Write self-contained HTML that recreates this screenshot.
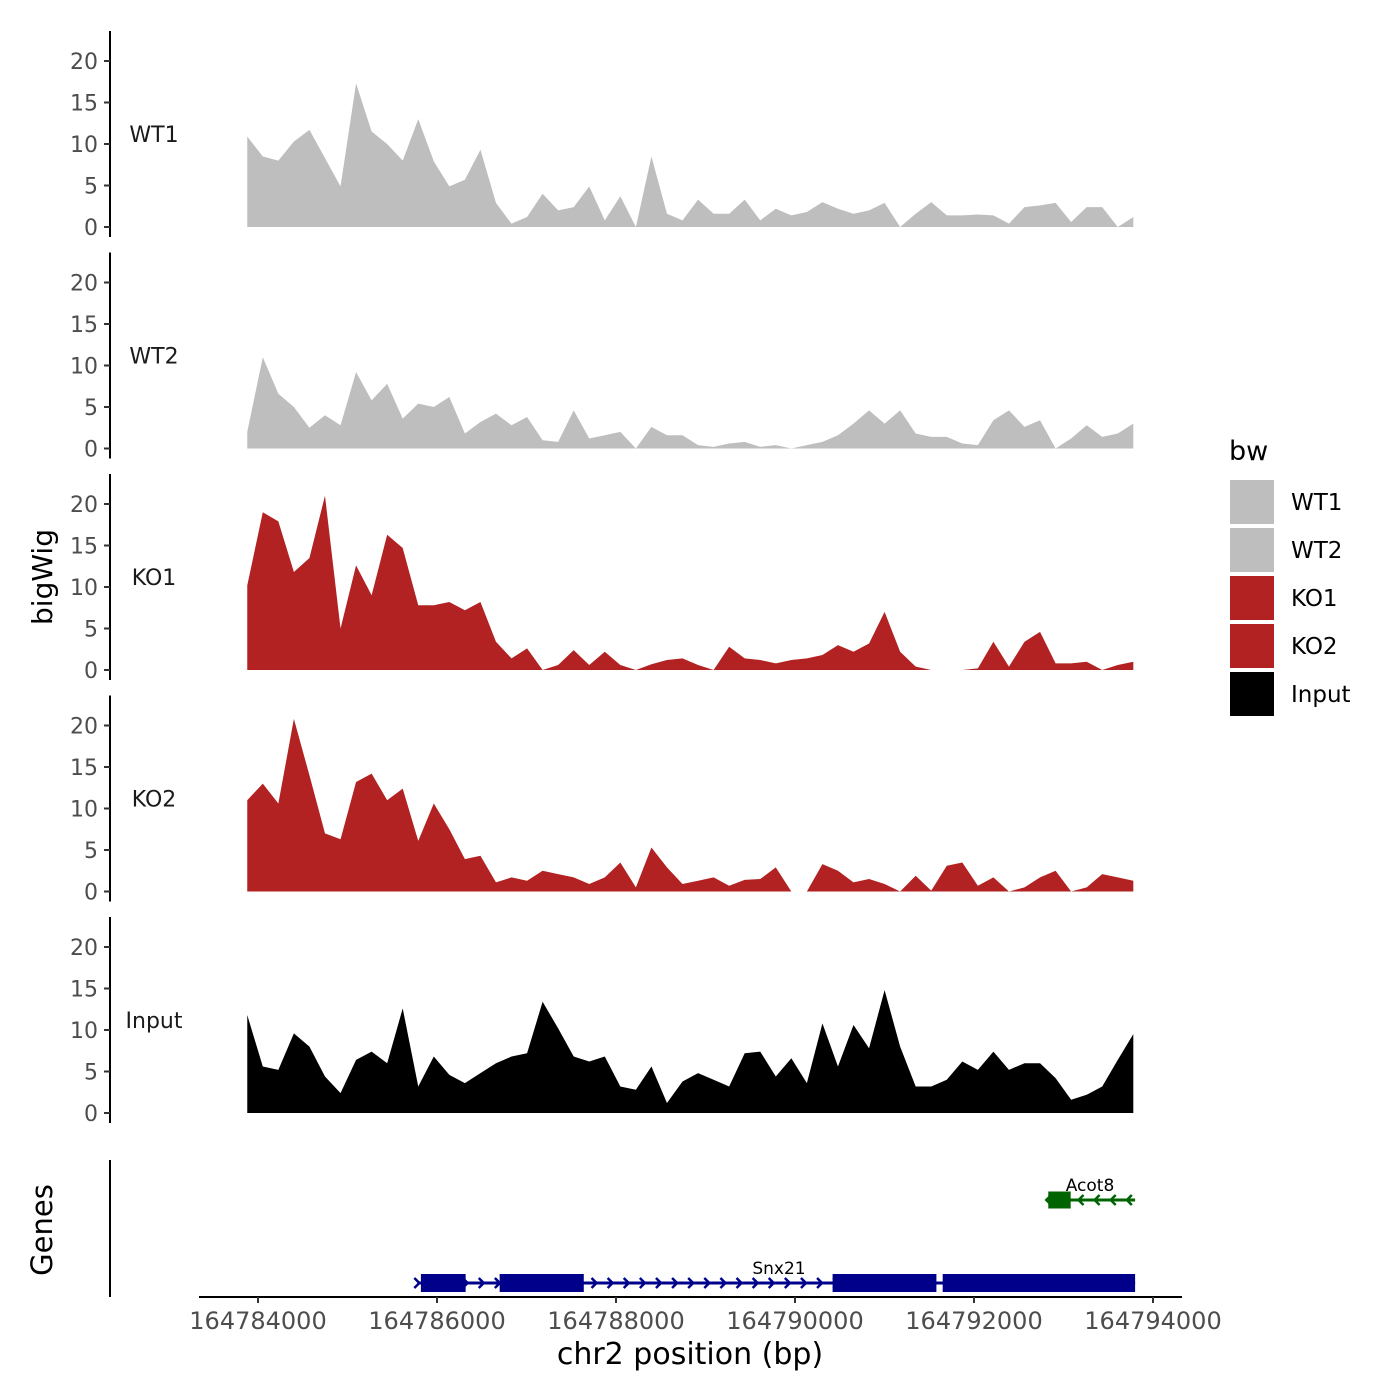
<!DOCTYPE html>
<html><head><meta charset="utf-8"><style>
html,body{margin:0;padding:0;background:#fff;}
svg{display:block;font-family:"DejaVu Sans","Liberation Sans",sans-serif;}
</style></head><body>
<svg id="chart" width="1400" height="1400" viewBox="0 0 1400 1400" xmlns="http://www.w3.org/2000/svg"></svg>
<script>
const xStartBp = 164783880;
const xEndBp = 164793780;
const trackNames = ["WT1","WT2","KO1","KO2","Input"];
const trackColors = ["#bebebe","#bebebe","#b22222","#b22222","#000000"];
const wt1 = [10.9,8.5,8,10.3,11.7,8.3,4.9,17.3,11.5,10,8,13,7.9,4.9,5.7,9.3,2.9,0.4,1.2,4,2,2.4,4.9,0.8,3.7,0,8.5,1.6,0.8,3.3,1.6,1.6,3.3,0.8,2.2,1.4,1.8,3,2.2,1.6,2,2.9,0,1.6,3,1.4,1.4,1.5,1.4,0.4,2.4,2.6,2.9,0.6,2.4,2.4,0,1.2];
const wt2 = [2,11,6.6,5,2.5,4,2.8,9.2,5.8,7.8,3.6,5.4,5,6.2,1.8,3.2,4.2,2.8,3.8,1,0.8,4.6,1.2,1.6,2,0,2.6,1.6,1.6,0.4,0.2,0.6,0.8,0.2,0.4,0,0.4,0.8,1.6,3,4.6,3,4.6,1.8,1.4,1.4,0.6,0.4,3.4,4.6,2.6,3.4,0,1.2,2.8,1.4,1.8,3];
const ko1 = [10.2,19,17.9,11.8,13.5,21,5,12.6,9,16.3,14.7,7.8,7.8,8.2,7.2,8.2,3.4,1.4,2.6,0,0.6,2.4,0.6,2.2,0.6,0,0.7,1.2,1.4,0.6,0,2.8,1.4,1.2,0.8,1.2,1.4,1.8,3,2.2,3.2,7,2.2,0.4,0,0,0,0.2,3.4,0.4,3.4,4.6,0.8,0.8,1,0,0.6,1];
const ko2 = [11,13,10.6,20.8,14,7,6.3,13.2,14.2,11,12.4,6.1,10.6,7.5,3.9,4.3,1.1,1.7,1.3,2.5,2.1,1.7,0.9,1.7,3.5,0.5,5.3,2.9,0.9,1.3,1.7,0.7,1.4,1.5,2.9,0,0,3.3,2.5,1.1,1.5,0.9,0,1.9,0.1,3.1,3.5,0.7,1.7,0,0.5,1.7,2.5,0,0.5,2.1,1.7,1.3];
const input = [11.8,5.6,5.2,9.6,8,4.4,2.4,6.4,7.4,6,12.6,3.2,6.8,4.6,3.6,4.8,6,6.8,7.2,13.4,10.2,6.8,6.2,6.8,3.2,2.8,5.6,1.2,3.8,4.8,4,3.2,7.2,7.4,4.4,6.6,3.6,10.8,5.6,10.6,7.8,14.8,8,3.2,3.2,4,6.2,5.2,7.4,5.2,6,6,4.2,1.6,2.2,3.2,6.4,9.5];
const seriesList = [wt1,wt2,ko1,ko2,input];
const yTicks = [0,5,10,15,20];
const xTicks = [164784000,164786000,164788000,164790000,164792000,164794000];
const snxExons = [[164785820,164786320],[164786700,164787640],[164790420,164791580],[164791650,164793800]];
const snxRange = [164785780,164793800];
const acotExons = [[164792830,164793080]];
const acotRange = [164792830,164793800];

const svg = document.getElementById('chart');
const NS = 'http://www.w3.org/2000/svg';
function mk(tag, attrs, parent){const e=document.createElementNS(NS,tag);for(const k in attrs)e.setAttribute(k,attrs[k]);(parent||svg).appendChild(e);return e;}
const xScale = bp => 258 + (bp - 164784000) * (1153 - 258) / 10000;
const panelOff = 221.5;
const yScale = (v,k) => 227 + k*panelOff - v*8.3;

for(let k=0;k<5;k++){
  const g = mk('g',{});
  
  
  const vals = seriesList[k];
  const n = vals.length;
  let d = 'M' + xScale(xStartBp) + ',' + yScale(0,k);
  for(let i=0;i<n;i++){
    const bp = xStartBp + i*(xEndBp - xStartBp)/(n-1);
    d += ' L' + xScale(bp).toFixed(2) + ',' + yScale(vals[i],k).toFixed(2);
  }
  d += ' L' + xScale(xEndBp) + ',' + yScale(0,k) + ' Z';
  const area = mk('path',{d:d, fill:trackColors[k]}, g);
  
  
  const ax = mk('line',{x1:110,x2:110,y1:31+k*panelOff,y2:237+k*panelOff,stroke:'#000','stroke-width':2}, g);
  
  
  yTicks.forEach(t=>{
    const y = yScale(t,k);
    mk('line',{x1:104,x2:110,y1:y,y2:y,stroke:'#333','stroke-width':2}, g);
    const tl = mk('text',{x:98,y:y+8,'text-anchor':'end','font-size':22,fill:'#4d4d4d'}, g);
    tl.textContent = t;
    
    
  });
  const lab = mk('text',{x:154,y:142+k*panelOff,'text-anchor':'middle','font-size':22,fill:'#1a1a1a'}, g);
  lab.textContent = trackNames[k];
  
  
}

const gax = mk('line',{x1:110,x2:110,y1:1160,y2:1297,stroke:'#000','stroke-width':2});


function drawGene(range, exons, y, h, color, dir, name, labelX, labelY){
  const g = mk('g',{});
  
  
  mk('line',{x1:xScale(range[0]),x2:xScale(range[1]),y1:y,y2:y,stroke:color,'stroke-width':3}, g);
  const step = 180;
  for(let bp=range[0]; bp<=range[1]; bp+=step){
    const x = xScale(bp);
    const a = dir>0 ? `M${x-3},${y-5} L${x+2},${y} L${x-3},${y+5}` : `M${x+3},${y-5} L${x-2},${y} L${x+3},${y+5}`;
    mk('path',{d:a,stroke:color,'stroke-width':2.5,fill:'none'}, g);
  }
  exons.forEach(e=>{
    const r = mk('rect',{x:xScale(e[0]),y:y-h/2,width:xScale(e[1])-xScale(e[0]),height:h,fill:color}, g);
    
    
  });
  const t = mk('text',{x:labelX,y:labelY,'text-anchor':'middle','font-size':17,fill:'#000'}, g);
  t.textContent = name;
  
  
}
drawGene(snxRange, snxExons, 1283, 18, '#00008b', 1, 'Snx21', 779, 1274);
drawGene(acotRange, acotExons, 1200, 17, '#006400', -1, 'Acot8', 1090, 1191);

const xa = mk('line',{x1:199,x2:1182,y1:1297,y2:1297,stroke:'#000','stroke-width':2});


xTicks.forEach(t=>{
  const x = xScale(t);
  mk('line',{x1:x,x2:x,y1:1297,y2:1303,stroke:'#333','stroke-width':2});
  const tl = mk('text',{x:x,y:1329,'text-anchor':'middle','font-size':24,fill:'#4d4d4d'});
  tl.textContent = t;
  
  
});
const xt = mk('text',{x:690,y:1364,'text-anchor':'middle','font-size':30,fill:'#000'});
xt.textContent = 'chr2 position (bp)';


const yt = mk('text',{x:0,y:0,'text-anchor':'middle','font-size':28,fill:'#000',transform:'translate(52,577) rotate(-90)'});
yt.textContent = 'bigWig';


const gt = mk('text',{x:0,y:0,'text-anchor':'middle','font-size':29,fill:'#000',transform:'translate(52,1230) rotate(-90)'});
gt.textContent = 'Genes';



const lg = mk('g',{});


const ltitle = mk('text',{x:1229,y:460,'font-size':27,fill:'#000'}, lg);
ltitle.textContent = 'bw';


trackNames.forEach((nm,i)=>{
  const y = 480 + i*48;
  const r = mk('rect',{x:1230,y:y,width:44,height:44,fill:trackColors[i]}, lg);
  
  
  const t = mk('text',{x:1291,y:y+30,'font-size':23,fill:'#000'}, lg);
  t.textContent = nm;
  
  
});
</script>
</body></html>
